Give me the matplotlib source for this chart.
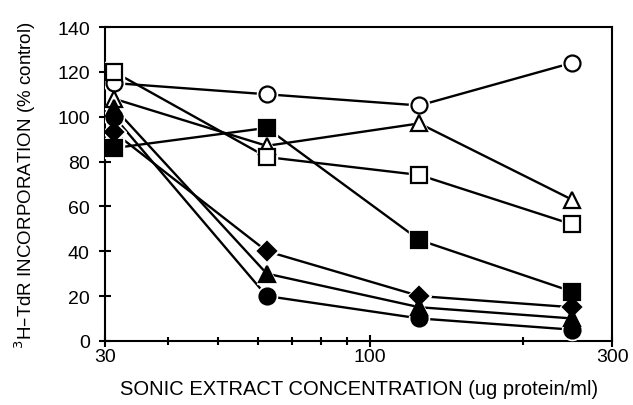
import matplotlib as mpl
import matplotlib.pyplot as plt
import numpy as np

mpl.rcParams['font.family'] = ['Liberation Sans', 'DejaVu Sans']
mpl.rcParams['font.size'] = 12

# sonic extract concentration (ug protein/ml)
conc = [31.25, 62.5, 125, 250]

# 3H-TdR incorporation (% control), one list per series
open_circle = [115, 110, 105, 124]
open_triangle = [108, 87, 97, 63]
open_square = [120, 82, 74, 52]
filled_square = [86, 95, 45, 22]
filled_diamond = [93, 40, 20, 15]
filled_triangle = [104, 30, 15, 10]
filled_circle = [100, 20, 10, 5]

series = [
    (open_circle, 'o', 'white', 11.5),
    (open_triangle, '^', 'white', 11.5),
    (open_square, 's', 'white', 12),
    (filled_square, 's', 'black', 12),
    (filled_diamond, 'D', 'black', 9.5),
    (filled_triangle, '^', 'black', 11.5),
    (filled_circle, 'o', 'black', 11.5),
]

fig = plt.figure(figsize=(6.33, 4.06), dpi=100)
ax = fig.add_axes([0.166, 0.158, 0.801, 0.773])

for vals, m, fc, ms in series:
    ax.plot(conc, vals, '-', color='black', lw=1.7, zorder=2)
for vals, m, fc, ms in series:
    # white halo so lines stop short of the symbols
    ax.plot(conc, vals, ls='none', marker=m, ms=ms + 3, mfc='white', mec='white', zorder=3)
for vals, m, fc, ms in series:
    ax.plot(conc, vals, ls='none', marker=m, ms=ms, mfc=fc, mec='black', mew=1.6, zorder=4)

ax.set_xscale('log')
ax.set_xlim(30, 300)
ax.set_ylim(0, 140)
ax.set_xticks([30, 100, 300])
ax.set_xticklabels(['30', '100', '300'])
ax.set_xticks([40, 50, 60, 70, 80, 90, 200], minor=True)
ax.xaxis.set_minor_formatter(mpl.ticker.NullFormatter())
ax.set_yticks(np.arange(0, 141, 20))

ax.tick_params(axis='both', which='major', direction='inout', length=8, width=1.5, labelsize=14)
ax.tick_params(axis='x', which='minor', direction='inout', length=6, width=1.5)
ax.tick_params(axis='y', pad=7)
ax.tick_params(axis='x', pad=1)
for s in ax.spines.values():
    s.set_linewidth(1.5)

ax.set_xlabel('SONIC EXTRACT CONCENTRATION (ug protein/ml)', fontsize=14.5, labelpad=10)
ax.set_ylabel('$^3$H\u2013TdR INCORPORATION (% control)', fontsize=13.5, labelpad=14)

fig.savefig('out.png', dpi=100)
